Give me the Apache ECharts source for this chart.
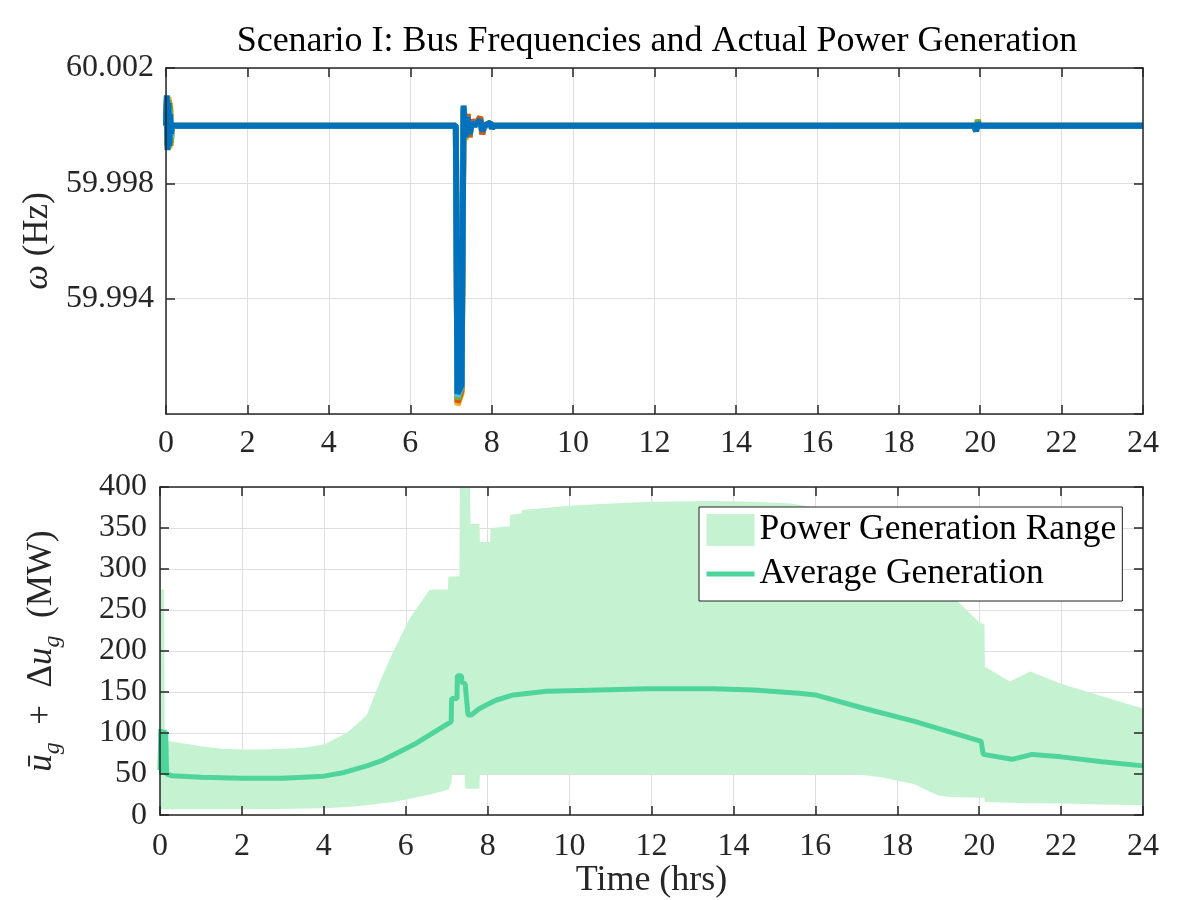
<!DOCTYPE html>
<html>
<head>
<meta charset="utf-8">
<title>Scenario I: Bus Frequencies and Actual Power Generation</title>
<script src="https://cdn.jsdelivr.net/npm/echarts@6/dist/echarts.min.js"></script>
<style>
  html, body { margin: 0; padding: 0; background: #fff; }
  #chart { width: 1200px; height: 900px; }
</style>
</head>
<body>
<div id="chart"></div>
<script>
// ---- values ----
const hourRange = [0, 24]
const hourStep = 2
const freqRange = [59.990, 60.002]
const freqStep = 0.004
const powerRange = [0, 400]
const powerStep = 50

// bus frequencies (Hz), all sampled at tFreq (hrs)
const tFreq = [0, 0.02, 0.04, 0.06, 0.08, 0.10, 0.12, 0.14, 0.3,
  7.12, 7.16, 7.26, 7.31, 7.36, 7.41, 7.46, 7.51, 7.58,
  7.72, 7.77, 7.82, 7.97, 8.01, 8.05, 8.2,
  19.86, 19.9, 19.94, 19.98, 24]
const freqBusYellow = [60, 60.0009, 59.9992, 60.0010, 59.9992, 60.0008, 59.9993, 60, 60,
  60, 59.9903, 59.9907, 60.0005, 59.9995, 60.0004, 59.9996, 60.0002, 60,
  60.0003, 59.9997, 60, 60.0001, 59.9999, 60, 60,
  60, 59.9998, 60.0002, 60, 60]
const freqBusRed = [60, 60.0008, 59.9993, 60.0009, 59.9993, 60.0006, 59.9994, 60, 60,
  60, 59.9904, 59.9908, 60.0005, 59.9996, 60.0004, 59.9996, 60.0002, 60,
  60.0003, 59.9997, 60, 60.0001, 59.9999, 60, 60,
  60, 59.9999, 60.0001, 60, 60]
const freqBusGreen = [60, 60.0009, 59.9993, 60.0009, 59.99925, 60.0007, 59.9994, 60, 60,
  60, 59.9905, 59.9909, 60.0006, 59.9996, 60.0003, 59.9997, 60.0001, 60,
  60.0002, 59.9998, 60, 60.0001, 59.9999, 60, 60,
  60, 59.9998, 60.0002, 60, 60]
const freqBusLightBlue = [60, 60.0007, 59.9994, 60.0006, 59.9995, 60.0004, 59.9996, 60, 60,
  60, 59.9906, 59.9910, 60.0006, 59.9997, 60.0002, 59.9998, 60.0001, 60,
  60.0001, 59.9999, 60, 60, 60, 60, 60,
  60, 59.9999, 60.0001, 60, 60]
const freqBusBlue = [60, 60.00105, 59.99915, 60.0008, 59.9993, 60.0004, 59.9997, 60, 60,
  60, 59.9907, 59.9910, 60.0007, 59.9996, 60.0003, 59.9997, 60.0001, 60,
  60.0002, 59.9998, 60, 60.0001, 59.9999, 60, 60,
  60, 59.9998, 60.0001, 60, 60]

// power generation range (MW), lower and upper bound at tGen (hrs)
const tGen = [0, 0.1, 0.12, 0.5, 1.0, 1.5, 2.0, 2.5, 3.0, 3.5, 4.0, 4.56, 5.05, 5.37, 5.7, 6.1, 6.59,
  7.03, 7.04, 7.12, 7.13, 7.31, 7.32, 7.44, 7.45, 7.57, 7.58, 7.80, 7.81, 8.06, 8.07, 8.54, 8.55, 8.83, 8.84,
  10.0, 11.0, 12.0, 13.5, 14.5, 15.4, 16.0, 17.0, 17.6, 18.4, 19.0, 19.3, 20.0, 20.13, 20.14,
  20.75, 21.25, 22.0, 23.0, 24.0]
const genLow = [7, 7, 7, 7, 7, 7, 7, 7.5, 7.5, 8, 8.5, 10, 12, 14, 16, 20, 25,
  31, 31, 40, 50, 50, 50, 50, 32, 32, 32, 32, 50, 50, 50, 50, 50, 50, 50,
  50, 50, 50, 50, 50, 50, 50, 50, 46, 38, 24, 22, 21, 21, 16,
  15, 14.5, 14, 13, 12]
const genHigh = [275, 275, 91, 88, 84, 81, 80, 80, 81, 82, 86, 100, 122, 163, 200, 240, 275,
  275, 291, 291, 291, 291, 400, 400, 400, 400, 355, 355, 333, 333, 350, 352, 366, 368, 372,
  377, 380, 382, 383, 382, 380, 375, 355, 340, 315, 285, 269, 235, 232, 181,
  163, 175, 160, 145, 130]

// average generation (MW)
const tAvg = [0, 0.02, 0.04, 0.06, 0.08, 0.10, 0.12, 0.14, 0.16, 0.18, 0.3, 1.0, 2.0, 3.0, 4.0, 4.5, 5.05, 5.4, 6.2,
  7.11, 7.12, 7.25, 7.26, 7.36, 7.37, 7.45, 7.52, 7.6, 7.8, 8.2, 8.63, 9.44, 10.25,
  11.9, 13.5, 14.5, 15.6, 16.0, 17.2, 18.4, 20.05, 20.1, 20.8, 21.3, 22.0, 23.0, 24.0]
const avgGen = [55, 105, 50, 104, 51, 104, 50, 102, 50, 50, 48, 46, 45, 45, 47.5, 52, 60, 66, 86,
  114, 142, 142, 170, 170, 162, 160, 122, 122, 130, 140, 146.5, 151, 152,
  154, 154, 152.5, 148.5, 146.5, 130, 114.5, 90, 74, 68, 74, 71, 65, 60]

// ---- styling ----
const font = '"Liberation Serif", "DejaVu Serif", serif'
const axisColor = '#262626'
const gridColor = '#dedede'
const bandColor = '#c5f3d2'
const avgColor = '#4fd49b'

const myChart = echarts.init(document.getElementById('chart'), null, { renderer: 'canvas' })

function frameAxis (grid, position, range, step) {
  return {
    type: 'value',
    gridIndex: grid,
    position: position,
    min: range[0],
    max: range[1],
    interval: step,
    z: 5,
    axisLine: { show: true, onZero: false, lineStyle: { color: axisColor, width: 1.5 } },
    axisTick: { show: true, inside: true, length: 9, lineStyle: { color: axisColor, width: 1.5 } },
    axisLabel: { show: false },
    splitLine: { show: false }
  }
}

function splitAxis (grid, position, range, step) {
  return {
    type: 'value',
    gridIndex: grid,
    position: position,
    min: range[0],
    max: range[1],
    interval: step,
    z: 0,
    axisLine: { show: false },
    axisTick: { show: false },
    axisLabel: { show: false },
    splitLine: { show: true, lineStyle: { color: gridColor, width: 1 } }
  }
}

function labelled (axis, margin, extra) {
  axis.axisLabel = Object.assign({
    show: true,
    margin: margin,
    color: axisColor,
    fontFamily: font,
    fontSize: 32
  }, extra || {})
  return axis
}

const xAxes = [
  labelled(frameAxis(0, 'bottom', hourRange, hourStep), 14),
  frameAxis(0, 'top', hourRange, hourStep),
  splitAxis(0, 'bottom', hourRange, hourStep),
  Object.assign(labelled(frameAxis(1, 'bottom', hourRange, hourStep), 15), {
    name: 'Time (hrs)',
    nameLocation: 'middle',
    nameGap: 47,
    nameTextStyle: { fontFamily: font, fontSize: 36, color: axisColor }
  }),
  frameAxis(1, 'top', hourRange, hourStep),
  splitAxis(1, 'bottom', hourRange, hourStep)
]

const yAxes = [
  Object.assign(labelled(frameAxis(0, 'left', freqRange, freqStep), 12, {
    showMinLabel: false,
    formatter: function (v) { return v.toFixed(3) }
  }), {
    name: '{w|ω} (Hz)',
    nameLocation: 'middle',
    nameRotate: 90,
    nameGap: 108,
    nameTextStyle: {
      fontFamily: font, fontSize: 35, color: axisColor,
      rich: { w: { fontFamily: font, fontSize: 35, fontStyle: 'italic', color: axisColor } }
    }
  }),
  frameAxis(0, 'right', freqRange, freqStep),
  splitAxis(0, 'left', freqRange, freqStep),
  Object.assign(labelled(frameAxis(1, 'left', powerRange, powerStep), 13), {
    name: '{u|ū}{g|g}  +  Δ{u|u}{g|g}  (MW)',
    nameLocation: 'middle',
    nameRotate: 90,
    nameGap: 95,
    nameTextStyle: {
      fontFamily: font, fontSize: 35, color: axisColor, lineHeight: 46,
      rich: {
        u: { fontFamily: font, fontSize: 35, fontStyle: 'italic', color: axisColor, lineHeight: 46 },
        g: { fontFamily: font, fontSize: 24, fontStyle: 'italic', color: axisColor, lineHeight: 22, verticalAlign: 'bottom' }
      }
    }
  }),
  frameAxis(1, 'right', powerRange, powerStep),
  splitAxis(1, 'left', powerRange, powerStep)
]

function busSeries (values, color) {
  return {
    type: 'line',
    xAxisIndex: 0,
    yAxisIndex: 0,
    symbol: 'none',
    showSymbol: false,
    silent: true,
    lineStyle: { color: color, width: 6 },
    data: tFreq.map(function (t, i) { return [t, values[i]] })
  }
}

const option = {
  animation: false,
  backgroundColor: '#fff',
  title: {
    text: 'Scenario I: Bus Frequencies and Actual Power Generation',
    left: 652,
    top: 19,
    textAlign: 'center',
    textStyle: { fontFamily: font, fontSize: 36, fontWeight: 'normal', color: '#000' }
  },
  grid: [
    { left: 166, right: 57, top: 68, height: 346 },
    { left: 160, right: 57, top: 487, height: 331 }
  ],
  legend: {
    orient: 'vertical',
    left: 699,
    top: 507,
    padding: [5, 6, 9, 5],
    itemGap: 8,
    itemWidth: 48,
    itemHeight: 32,
    backgroundColor: '#fff',
    borderColor: '#222',
    borderWidth: 1,
    borderRadius: 0,
    selectedMode: false,
    textStyle: { fontFamily: font, fontSize: 35.5, color: '#000' },
    data: [
      { name: 'Power Generation Range', icon: 'rect', itemStyle: { color: bandColor, borderWidth: 0 } },
      {
        name: 'Average Generation',
        itemStyle: { opacity: 0 },
        lineStyle: { color: avgColor, width: 5 }
      }
    ]
  },
  xAxis: xAxes,
  yAxis: yAxes,
  series: [
    busSeries(freqBusYellow, '#EDB120'),
    busSeries(freqBusRed, '#D95319'),
    busSeries(freqBusGreen, '#77AC30'),
    busSeries(freqBusLightBlue, '#4DBEEE'),
    busSeries(freqBusBlue, '#0072BD'),
    {
      name: 'Power Generation Range',
      type: 'custom',
      xAxisIndex: 3,
      yAxisIndex: 3,
      clip: true,
      silent: true,
      itemStyle: { color: bandColor },
      data: [[tGen[0], genLow[0]]],
      renderItem: function (params, api) {
        const upper = tGen.map(function (t, i) { return api.coord([t, genHigh[i]]) })
        const lower = tGen.map(function (t, i) { return api.coord([t, genLow[i]]) }).reverse()
        return {
          type: 'polygon',
          shape: { points: upper.concat(lower) },
          style: { fill: bandColor }
        }
      }
    },
    {
      name: 'Average Generation',
      type: 'line',
      xAxisIndex: 3,
      yAxisIndex: 3,
      symbol: 'none',
      showSymbol: false,
      silent: true,
      z: 3,
      lineStyle: { color: avgColor, width: 5 },
      itemStyle: { color: avgColor },
      data: tAvg.map(function (t, i) { return [t, avgGen[i]] })
    }
  ]
}

myChart.setOption(option)
</script>
</body>
</html>
